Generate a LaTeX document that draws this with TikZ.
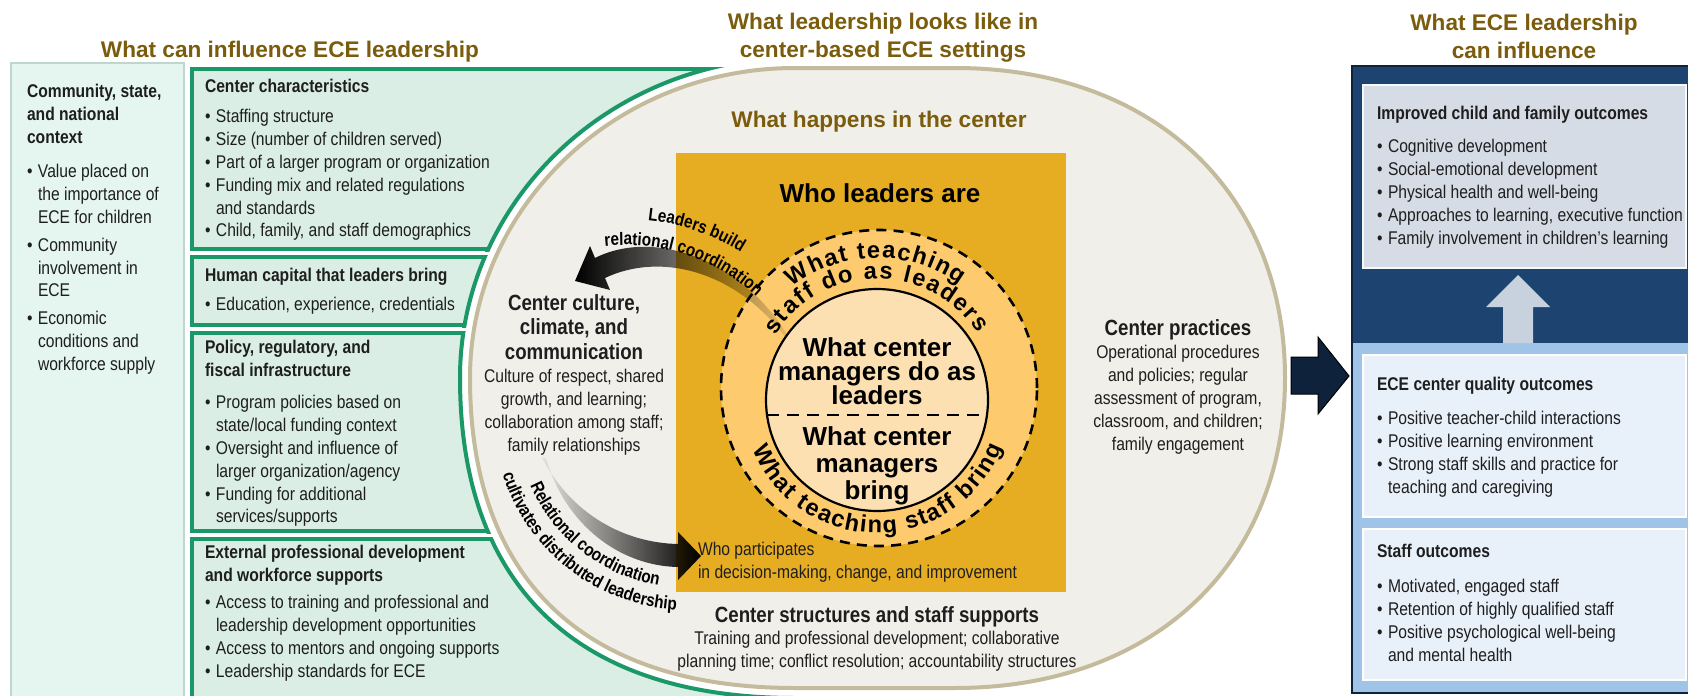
\documentclass[tikz,border=0pt]{standalone}
\usepackage{fontspec}
\setmainfont{Liberation Sans}
\newfontfamily\nar{Liberation Sans}[FakeStretch=0.85]
\usetikzlibrary{decorations.text,fadings}

\definecolor{titlebrown}{RGB}{122,92,12}
\definecolor{mintfill}{RGB}{229,246,240}
\definecolor{mintline}{RGB}{190,214,206}
\definecolor{gfill}{RGB}{218,238,230}
\definecolor{gline}{RGB}{26,152,104}
\definecolor{beigefill}{RGB}{241,239,234}
\definecolor{beigeline}{RGB}{196,186,156}
\definecolor{gold}{RGB}{230,173,35}
\definecolor{ringfill}{RGB}{253,202,110}
\definecolor{corefill}{RGB}{253,224,178}
\definecolor{navy}{RGB}{29,67,112}
\definecolor{darknavy}{RGB}{15,34,60}
\definecolor{topbox}{RGB}{213,220,229}
\definecolor{lowpanel}{RGB}{160,196,232}
\definecolor{lowbox}{RGB}{232,240,249}
\definecolor{uparrowc}{RGB}{200,210,222}
\definecolor{txt}{RGB}{30,30,30}

\newcommand\fbody{\nar\fontsize{9.2}{11.4}\selectfont\lineskiplimit=-20pt\relax}
\newcommand\fsub{\nar\bfseries\fontsize{11}{12.25}\selectfont\lineskiplimit=-20pt\relax}
\newcommand\fcore{\bfseries\fontsize{13}{12}\selectfont\lineskiplimit=-20pt\relax}
\newcommand\fcoreb{\bfseries\fontsize{13}{13.5}\selectfont\lineskiplimit=-20pt\relax}
\newcommand\fwho{\bfseries\fontsize{13}{15}\selectfont}
\newcommand\fring{\bfseries\fontsize{11.8}{13}\selectfont}
\newcommand\farr{\nar\bfseries\fontsize{9}{10}\selectfont}
\newcommand\ftitle{\bfseries\fontsize{11.3}{13.5}\selectfont\lineskiplimit=-20pt\relax}
\newcommand\myb{\makebox[5.5pt][l]{\textbullet}}
\newcommand\myi{\hspace*{5.5pt}}

\tikzfading[name=fadeA, left color=transparent!0, middle color=transparent!35, right color=transparent!92]
\tikzfading[name=fadeB, left color=transparent!95, middle color=transparent!45, right color=transparent!0]

\def\greencurve{(795,-58) .. controls (610,-58) and (460,-201.4) .. (460,-378) .. controls (460,-586) and (577,-698) .. (795,-698)}

\tikzset{
  tb/.style={inner sep=0pt, outer sep=0pt, align=left, anchor=north west, font=\fbody, text=txt},
  tc/.style={inner sep=0pt, outer sep=0pt, align=center, anchor=north, font=\fbody, text=txt},
  ttl/.style={inner sep=0pt, outer sep=0pt, align=center, font=\ftitle, text=titlebrown},
  gbox/.style={gline, line width=2pt},
}

\begin{document}
\begin{tikzpicture}[x=0.5pt,y=0.5pt]
\useasboundingbox (0,0) rectangle (1688,-696);
\fill[white] (0,0) rectangle (1688,-696);

% ---------- left column ----------
\draw[mintline, fill=mintfill, line width=1pt] (11,-63) rectangle (184,-712);

\foreach \t/\b in {69/249, 257/325, 333/531, 539/718}{
  \fill[gfill] (192,-\t) rectangle (800,-\b);
  \draw[gbox] (192,-\t) rectangle (800,-\b);
}
% area right of the green curve
\fill[white] \greencurve -- (830,-698) -- (830,-58) -- cycle;
\foreach \t/\b in {67/251, 255/327, 331/533, 537/720}{
  \begin{scope}
    \clip (190,-\t) rectangle (830,-\b);
    \draw[gbox] \greencurve;
  \end{scope}
}

% ---------- beige oval ----------
\draw[beigeline, fill=beigefill, line width=2pt]
  (795,-68) .. controls (615.6,-68) and (470,-206.9) .. (470,-378)
  .. controls (470,-579.5) and (583.8,-688) .. (795,-688)
  -- (955,-688) .. controls (1153,-688) and (1285,-564) .. (1285,-378)
  .. controls (1285,-192) and (1153,-68) .. (955,-68) -- cycle;

% ---------- gold square and circles ----------
\fill[gold] (676,-153) rectangle (1066,-592);
\draw[black, fill=ringfill, line width=1.3pt, dash pattern=on 5pt off 3.6pt] (879,-388) circle[radius=158];
\draw[black, fill=corefill, line width=1.1pt] (877,-400) circle[radius=111];
\draw[black, line width=1.3pt, dash pattern=on 6pt off 4pt] (767,-415) -- (987,-415);

% ---------- titles ----------
\node[ttl, anchor=base] (t1) at (290,-57) {What can influence ECE leadership};
\node[ttl, anchor=north] (t2) at (883,-11.1) {\strut What leadership looks like in\\center-based ECE settings};
\node[ttl, anchor=north] (t3) at (1524,-12.1) {\strut What ECE leadership\\can influence};
\node[ttl, anchor=base] (happen) at (879,-127) {What happens in the center};
\node[inner sep=0pt, anchor=base, font=\fwho] (wholead) at (880,-202) {Who leaders are};

% ---------- left texts ----------
\node[tb] (comm) at (27,-82) {\strut{\bfseries Community, state,}\\{\bfseries and national}\\{\bfseries context}\\[5.8pt]\myb Value placed on\\\myi the importance of\\\myi ECE for children\\[2.5pt]\myb Community\\\myi involvement in\\\myi ECE\\[2.5pt]\myb Economic\\\myi conditions and\\\myi workforce supply};

\node[tb] (cc) at (205,-77) {\strut{\bfseries Center characteristics}\\[3.6pt]\myb Staffing structure\\\myb Size (number of children served)\\\myb Part of a larger program or organization\\\myb Funding mix and related regulations\\\myi and standards\\\myb Child, family, and staff demographics};

\node[tb] (hc) at (205,-266) {\strut{\bfseries Human capital that leaders bring}\\[3.1pt]\myb Education, experience, credentials};

\node[tb] (pr) at (205,-338) {\strut{\bfseries Policy, regulatory, and}\\{\bfseries fiscal infrastructure}\\[4.7pt]\myb Program policies based on\\\myi state/local funding context\\\myb Oversight and influence of\\\myi larger organization/agency\\\myb Funding for additional\\\myi services/supports};

\node[tb] (ep) at (205,-543) {\strut{\bfseries External professional development}\\{\bfseries and workforce supports}\\[2.2pt]\myb Access to training and professional and\\\myi leadership development opportunities\\\myb Access to mentors and ongoing supports\\\myb Leadership standards for ECE};

% ---------- center texts ----------
\node[tc, font=\fsub] (cult) at (574,-292.9) {\strut Center culture,\\climate, and\\communication};
\node[tc] (cultb) at (574,-367) {\strut Culture of respect, shared\\growth, and learning;\\collaboration among staff;\\family relationships};
\node[tc, anchor=base, font=\fsub] (prac) at (1178,-335) {Center practices};
\node[tc] (pracb) at (1178,-343) {\strut Operational procedures\\and policies; regular\\assessment of program,\\classroom, and children;\\family engagement};
\node[tc, anchor=base, font=\fsub] (struct) at (877,-622) {Center structures and staff supports};
\node[tc] (structb) at (877,-629) {\strut Training and professional development; collaborative\\planning time; conflict resolution; accountability structures};
\node[tb] (who) at (698,-540) {\strut Who participates\\in decision-making, change, and improvement};

\node[tc, font=\fcore, text=black] (coreA) at (877,-336) {\rule{0pt}{10pt}What center\\managers do as\\leaders};
\node[tc, font=\fcoreb, text=black] (coreB) at (877,-425) {\rule{0pt}{10pt}What center\\managers\\bring};

% curved texts in the ring, spread to the arcs they cover
\path[decorate, decoration={text along path, text={|\fring|What teaching}, text align={fit to path}}]
  (877,-399) ++(127:141) arc[start angle=127, end angle=54, radius=141];
\path[decorate, decoration={text along path, text={|\fring|staff do as leaders}, text align={fit to path}}]
  (877,-399) ++(148:120) arc[start angle=148, end angle=33, radius=120];
\path[decorate, decoration={text along path, text={|\fring|What teaching staff bring}, text align={fit to path}}]
  (877,-399) ++(202:134) arc[start angle=202, end angle=339, radius=134];

% ---------- curved arrows ----------
\coordinate (a1tail) at (788,-336);
\coordinate (a1tip) at (575,-281);
\fill[black, path fading=fadeA]
  (595,-258) .. controls (655,-228) and (742,-260) .. (a1tail)
  -- (786,-338) .. controls (735,-270) and (660,-252) .. (605,-278)
  -- (610,-290) -- (a1tip) -- (590,-246) -- cycle;

\coordinate (a2tail) at (542,-458);
\coordinate (a2tip) at (701,-556);
\fill[black, path fading=fadeB]
  (a2tail) .. controls (572,-515) and (625,-543) .. (678,-544)
  -- (678,-532) -- (a2tip) -- (678,-580) -- (678,-567)
  .. controls (620,-566) and (565,-525) .. (546,-458) -- cycle;

\path[decorate, decoration={text along path, text={|\farr|Leaders build}, text align=center}]
  (625,-438) ++(91:219) arc[start angle=91, end angle=51, radius=219];
\path[decorate, decoration={text along path, text={|\farr|relational coordination}, text align=center}]
  (625,-438) ++(102:193) arc[start angle=102, end angle=41, radius=193];
\path[decorate, decoration={text along path, text={|\farr|Relational coordination}, text align=center}]
  (687,-417) ++(196:171) arc[start angle=196, end angle=268, radius=171];
\path[decorate, decoration={text along path, text={|\farr|cultivates distributed leadership}, text align=center}]
  (687,-417) ++(192:193) arc[start angle=192, end angle=272, radius=193];

% ---------- right panel ----------
\fill[navy] (1352,-66) rectangle (1700,-343);
\fill[lowpanel] (1352,-343) rectangle (1700,-693);
\draw[darknavy, line width=1pt] (1352,-66) rectangle (1700,-693);
\draw[fill=topbox, draw=white!80!topbox, line width=0.6pt] (1363,-85) rectangle (1686,-268);
\draw[fill=lowbox, draw=white, line width=0.6pt] (1363,-355) rectangle (1686,-517);
\draw[fill=lowbox, draw=white, line width=0.6pt] (1363,-529) rectangle (1686,-680);
\fill[uparrowc] (1503,-343) -- (1503,-307) -- (1486,-307) -- (1518,-275) -- (1550,-307) -- (1533,-307) -- (1533,-343) -- cycle;

\node[tb] (r1) at (1377,-104) {\strut{\bfseries Improved child and family outcomes}\\[5.1pt]\myb Cognitive development\\\myb Social-emotional development\\\myb Physical health and well-being\\\myb Approaches to learning, executive function\\\myb Family involvement in children’s learning};
\node[tb] (r2) at (1377,-375) {\strut{\bfseries ECE center quality outcomes}\\[5.6pt]\myb Positive teacher-child interactions\\\myb Positive learning environment\\\myb Strong staff skills and practice for\\\myi teaching and caregiving};
\node[tb] (r3) at (1377,-542) {\strut{\bfseries Staff outcomes}\\[6.1pt]\myb Motivated, engaged staff\\\myb Retention of highly qualified staff\\\myb Positive psychological well-being\\\myi and mental health};

% navy block arrow
\draw[fill=darknavy, draw=black, line width=0.5pt] (1291,-357) -- (1318,-357) -- (1318,-337) -- (1349,-376) -- (1318,-414) -- (1318,-394) -- (1291,-394) -- cycle;
\end{tikzpicture}
\end{document}
